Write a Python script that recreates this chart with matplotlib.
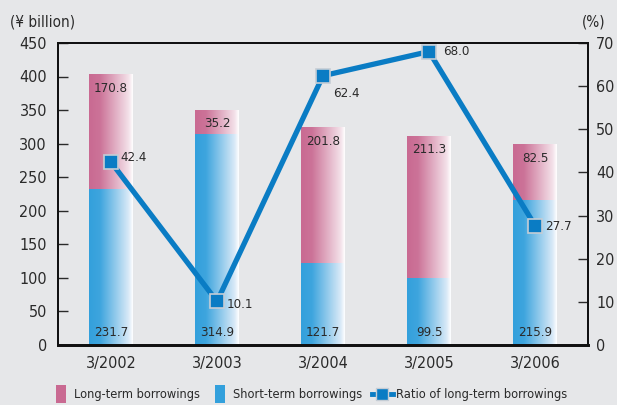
import numpy as np
import matplotlib.pyplot as plt
from matplotlib.colors import LinearSegmentedColormap
from matplotlib.lines import Line2D
from matplotlib.path import Path

# Borrowings by fiscal year end (¥ billion) and long-term ratio (%)
years = ["3/2002", "3/2003", "3/2004", "3/2005", "3/2006"]
short_term = [231.7, 314.9, 121.7, 99.5, 215.9]
long_term = [170.8, 35.2, 201.8, 211.3, 82.5]
ratio = [42.4, 10.1, 62.4, 68.0, 27.7]

plt.rcParams["font.family"] = ["DejaVu Sans"]
plt.rcParams["font.stretch"] = "condensed"

bg = "#e6e7e9"
pink = "#c96a92"
blue = "#33a0dc"
line_blue = "#0a7cc4"
text_col = "#2a2a2a"

pink_cmap = LinearSegmentedColormap.from_list(
    "pink_fade", [(0, pink), (0.25, "#cc7398"), (0.9, "#f3e0e8"), (1, "#ffffff")])
blue_cmap = LinearSegmentedColormap.from_list(
    "blue_fade", [(0, blue), (0.25, "#3ea5de"), (0.9, "#d8e9f7"), (1, "#ffffff")])

fig = plt.figure(figsize=(6.17, 4.05), dpi=100, facecolor=bg)
ax = fig.add_axes([0.094, 0.148, 0.859, 0.746], facecolor=bg)
ax2 = ax.twinx()

x = np.arange(len(years))
width = 0.41
grad = np.linspace(0, 1, 256).reshape(1, -1)


def gradient_bar(xc, y0, y1, cmap):
    ax.imshow(grad, cmap=cmap, aspect="auto", interpolation="bilinear",
              extent=(xc - width / 2, xc + width / 2, y0, y1), zorder=2)


for i in range(len(years)):
    gradient_bar(x[i], 0, short_term[i], blue_cmap)
    gradient_bar(x[i], short_term[i], short_term[i] + long_term[i], pink_cmap)
    ax.text(x[i], 18, f"{short_term[i]:.1f}", ha="center", va="center",
            fontsize=9.5, color=text_col, zorder=5)
    ax.text(x[i], short_term[i] + long_term[i] - 20, f"{long_term[i]:.1f}",
            ha="center", va="center", fontsize=9.5, color=text_col, zorder=5)

ax.set_xlim(-0.5, len(years) - 0.5)
ax.set_ylim(0, 450)
ax.set_yticks(range(0, 451, 50))
ax.set_xticks(x)
ax.set_xticklabels(years)
ax.tick_params(axis="x", length=0, pad=8, labelsize=11.5, colors=text_col)
ax.tick_params(axis="y", direction="in", length=7, width=1, pad=8,
               labelsize=11.5, colors=text_col)

# long-term ratio line on the right axis
ax2.plot(x, ratio, color=line_blue, lw=3.8, marker="s", markersize=10,
         markerfacecolor=line_blue, markeredgecolor="#c5cdd5",
         markeredgewidth=1.2, zorder=6, solid_capstyle="butt")
offsets = [(7, 3), (7, -2), (7, -13), (10, 0), (7, -1)]
for xi, r, off in zip(x, ratio, offsets):
    ax2.annotate(f"{r:.1f}", (xi, r), xytext=off, textcoords="offset points",
                 ha="left", va="center", fontsize=9.5, color=text_col, zorder=7)
ax2.set_ylim(0, 70)
ax2.set_yticks(range(0, 71, 10))
ax2.tick_params(axis="y", direction="in", length=7, width=1, pad=6,
                labelsize=11.5, colors=text_col)
ax2.set_zorder(ax.get_zorder() + 1)
ax2.patch.set_visible(False)

for a in (ax, ax2):
    for s in a.spines.values():
        s.set_color("#111111")
        s.set_linewidth(1.3)
    a.spines["bottom"].set_linewidth(2)

fig.text(0.016, 0.945, "(¥ billion)", fontsize=11, color=text_col, va="center")
fig.text(0.982, 0.945, "(%)", fontsize=11, color=text_col, va="center", ha="right")

# narrow upright swatch used for the bar entries
swatch = Path([(-0.25, -0.5), (0.25, -0.5), (0.25, 0.5), (-0.25, 0.5), (-0.25, -0.5)])
handles = [
    Line2D([0], [0], ls="none", marker=swatch, markersize=13,
           markerfacecolor=pink, markeredgewidth=0),
    Line2D([0], [0], ls="none", marker=swatch, markersize=13,
           markerfacecolor=blue, markeredgewidth=0),
    Line2D([0], [0], color=line_blue, lw=3.5, marker="s", markersize=9,
           markerfacecolor=line_blue, markeredgecolor="#c5cdd5"),
]
labels = ["Long-term borrowings", "Short-term borrowings",
          "Ratio of long-term borrowings"]
fig.legend(handles, labels, loc="center", bbox_to_anchor=(0.5, 0.025),
           ncol=3, frameon=False, fontsize=9.2, handlelength=1.7,
           handletextpad=0.2, columnspacing=0.7, labelcolor=text_col)

fig.savefig("out.png", dpi=100, facecolor=bg)
